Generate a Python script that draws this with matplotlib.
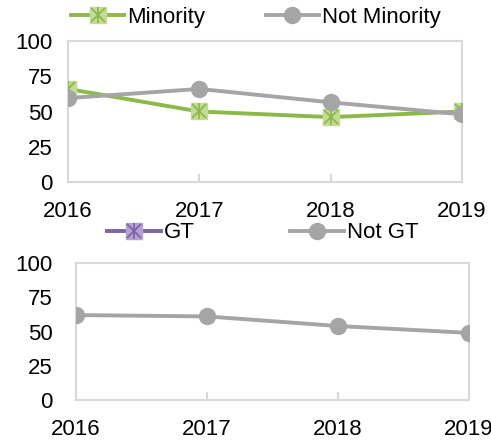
import matplotlib

matplotlib.use("Agg")
import matplotlib.pyplot as plt
import numpy as np

plt.rcParams["font.family"] = ["Liberation Sans", "DejaVu Sans"]

years = ["2016", "2017", "2018", "2019"]
minority = [66, 50, 46, 50]
not_minority = [59.5, 66, 56.5, 48]
gt = [np.nan, np.nan, np.nan, np.nan]
not_gt = [62, 61, 54, 49]
y_ticks = [0, 25, 50, 75, 100]

GREEN = "#8db84a"
GREEN_FILL = "#c3dc95"
PURPLE = "#7f63a8"
PURPLE_FILL = "#b4a2cf"
GRAY = "#a5a5a5"
FRAME = "#d9d9d9"
FS = 16


def star_series(ax, x, y, color, fill):
    line = ax.plot(x, y, color=color, lw=2.8, marker="s", ms=11.5,
                   mfc=fill, mec=fill, zorder=3)[0]
    cross = ax.plot(x, y, ls="none", marker="x", ms=10, mec=color,
                    mew=1.3, zorder=4)[0]
    bar = ax.plot(x, y, ls="none", marker="|", ms=11.5, mec=color,
                  mew=1.3, zorder=4)[0]
    return (line, cross, bar)


def circle_series(ax, x, y):
    return ax.plot(x, y, color=GRAY, lw=2.8, marker="o", ms=11.5,
                   mfc=GRAY, mec=GRAY, zorder=5)[0]


def style_axes(ax, ypad):
    ax.set_xlim(0, 3)
    ax.set_ylim(0, 100)
    ax.set_xticks(range(len(years)))
    ax.set_xticklabels(years)
    ax.set_yticks(y_ticks)
    for sp in ax.spines.values():
        sp.set_color(FRAME)
        sp.set_linewidth(1.5)
    ax.tick_params(axis="x", direction="in", length=6, width=1.5,
                   color=FRAME, pad=14, labelsize=FS)
    ax.tick_params(axis="y", length=0, pad=ypad, labelsize=FS)


fig = plt.figure(figsize=(4.91, 4.47), dpi=100)
x = np.arange(len(years))

ax1 = fig.add_axes([68 / 491, 1 - 182 / 447, 394 / 491, 141 / 447])
h_min = star_series(ax1, x, minority, GREEN, GREEN_FILL)
h_not = circle_series(ax1, x, not_minority)
style_axes(ax1, 11)
ax1.legend([h_min, h_not], ["Minority", "Not Minority"], ncol=2,
           loc="center", bbox_to_anchor=(0.477, 1.17), frameon=False,
           fontsize=FS, handlelength=2.4, handletextpad=0.15,
           columnspacing=2.7, borderaxespad=0, borderpad=0)

ax2 = fig.add_axes([76 / 491, 1 - 400 / 447, 393 / 491, 137 / 447])
h_gt = star_series(ax2, x, gt, PURPLE, PURPLE_FILL)
h_ngt = circle_series(ax2, x, not_gt)
style_axes(ax2, 17)
ax2.legend([h_gt, h_ngt], ["GT", "Not GT"], ncol=2,
           loc="center", bbox_to_anchor=(0.476, 1.219), frameon=False,
           fontsize=FS, handlelength=2.4, handletextpad=0.15,
           columnspacing=4.3, borderaxespad=0, borderpad=0)

fig.savefig("out.png", dpi=100)
